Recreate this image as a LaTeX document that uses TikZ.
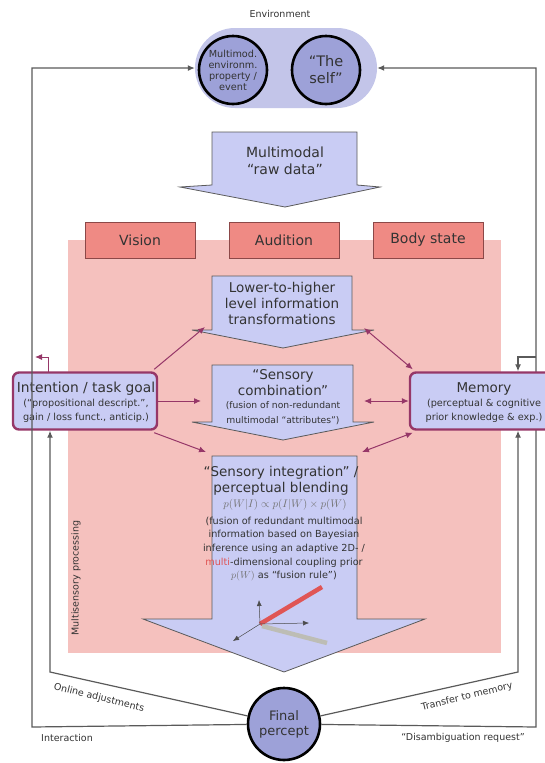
\documentclass[tikz,border=0pt]{standalone}
\usepackage{fontspec}
\setmainfont{DejaVu Sans}
\usetikzlibrary{arrows.meta,shapes.misc,calc}
\definecolor{lav}{HTML}{C9CCF4}
\definecolor{lavdark}{HTML}{9DA1D8}
\definecolor{caps}{HTML}{C3C5E9}
\definecolor{pinkbg}{HTML}{F5C1BE}
\definecolor{salmon}{HTML}{EF8A84}
\definecolor{boxbd}{HTML}{8C4848}
\definecolor{mag}{HTML}{963768}
\definecolor{txt}{HTML}{333333}
\definecolor{lin}{HTML}{5A5A5A}
\definecolor{redl}{HTML}{E05555}
\definecolor{grayl}{HTML}{BDBDB5}
\tikzset{
  blockarrow/.style={fill=lav, draw=lin, line width=0.8pt},
  sense/.style={fill=salmon, draw=boxbd, line width=0.9pt, minimum width=110pt, minimum height=36pt, inner sep=0pt, font=\fontsize{14}{16}\selectfont, text=txt},
  bigc/.style={circle, draw=black, line width=2.6pt, fill=lavdark, minimum size=68pt, inner sep=0pt, align=center, text=txt},
  sidebox/.style={rounded corners=6pt, draw=mag, line width=2.4pt, fill=lav, minimum height=57pt, inner sep=0pt, align=center, text=txt},
  flow/.style={draw=lin, line width=1.2pt, -{Latex[length=7pt,width=6pt]}},
  flowline/.style={draw=lin, line width=1.2pt},
  magarrow/.style={draw=mag, line width=1pt, -{Latex[length=7pt,width=6pt]}},
  magdbl/.style={draw=mag, line width=1pt, {Latex[length=7pt,width=6pt]}-{Latex[length=7pt,width=6pt]}},
  ttl/.style={font=\fontsize{13.5}{16}\selectfont, text=txt, align=center, inner sep=0pt},
  sml/.style={font=\fontsize{9.7}{14}\selectfont, text=txt, align=center, inner sep=0pt},
  lbl/.style={font=\fontsize{9.5}{11}\selectfont, text=txt, inner sep=0pt},
  axis/.style={draw=black!70, line width=0.5pt, -{Latex[length=6pt,width=5pt]}}
}
\begin{document}
\begin{tikzpicture}[x=1pt,y=-1pt]
\useasboundingbox (0,0) rectangle (545,763);
\fill[white] (0,0) rectangle (545,763);
% multisensory processing background
\fill[pinkbg] (68,240) rectangle (501,653);
\node[lbl, rotate=90] (msp) at (76,578) {Multisensory processing};

% environment
\node[lbl] (envlbl) at (280,14) {Environment};
\node[rounded rectangle, fill=caps, minimum width=182pt, minimum height=80pt, inner sep=0pt] (env) at (286,68) {};
\node[bigc, font=\fontsize{9.7}{11}\selectfont] (evt) at (233,70) {Multimod.\\environm.\\property /\\event};
\node[bigc, font=\fontsize{14.5}{17}\selectfont] (self) at (326,70) {“The\\self”};

% raw data arrow
\path[blockarrow] (212,132) -- (357,132) -- (357,185) -- (380,187) -- (285,207) -- (180,187) -- (212,185) -- cycle;
\node[ttl, font=\fontsize{14}{17}\selectfont] (raw) at (285,161) {Multimodal\\“raw data”};

% sensory boxes
\node[sense] (vis) at (140,240) {Vision};
\node[sense] (aud) at (284,240) {Audition};
\node[sense] (body) at (428,240) {Body state};

% lower-to-higher
\path[blockarrow] (212,276) -- (352,276) -- (352,330) -- (374,330) -- (283,348) -- (192,330) -- (212,330) -- cycle;
\node[ttl] (low) at (282,303) {Lower-to-higher\\level information\\transformations};

% sensory combination
\path[blockarrow] (212,365) -- (353,365) -- (353,422) -- (374,422) -- (283,440) -- (192,422) -- (212,422) -- cycle;
\node[ttl] (comb) at (283,383) {“Sensory\\combination”};
\node[sml, font=\fontsize{9.2}{15}\selectfont] (combsub) at (283,413) {(fusion of non-redundant\\multimodal “attributes”)};

% sensory integration
\path[blockarrow] (212,456) -- (357,456) -- (357,619) -- (425,619) -- (284,672) -- (143,619) -- (212,619) -- cycle;
\node[ttl] (integ) at (281,481) {“Sensory integration” /\\perceptual blending};
\node[sml, font=\fontsize{10.5}{12}\selectfont, text=black!55] (formula) at (285,505) {$p(W|I)\propto p(I|W)\times p(W)$};
\node[sml, font=\fontsize{9.7}{13.6}\selectfont] (integsub) at (284,549) {(fusion of redundant multimodal\\information based on Bayesian\\inference using an adaptive 2D- /\\{\color{redl}multi}-dimensional coupling prior\\{\color{black!55}$p(W)$} as “fusion rule”)};
% small 3D graphic
\coordinate (orig) at (260,624);
\draw[redl, line width=4.5pt] (orig) -- (322,587);
\draw[grayl, line width=4.5pt] (262,626) -- (327,643);
\draw[axis] (orig) -- (259,600);
\draw[axis] (orig) -- (309,623);
\draw[axis] (orig) -- (233,641);

% intention
\node[sidebox, minimum width=144pt] (int) at (85,401) {};
\node[ttl, font=\fontsize{13.8}{16}\selectfont] (intt) at (86,389) {Intention / task goal};
\node[sml] (ints) at (86,411) {(“propositional descript.”,\\gain / loss funct., anticip.)};

% feedback loops (outer right line drawn before memory so the box hides it)
\node[bigc, minimum size=72pt, font=\fontsize{13}{15}\selectfont] (fp) at (284,724) {Final\\percept};
\coordinate (lo) at (32,727);
\coordinate (ro) at (536,727);
\coordinate (la) at (50,672);
\coordinate (ra) at (518,672);
\coordinate (rj) at (536,357);
\coordinate (rk) at (518,357);
\draw[flow] (fp) -- (lo) -- (32,68) -- (env.west);
\draw[flow] (fp) -- (ro) -- (536,68) -- (env.east);

% memory
\node[sidebox, minimum width=150pt] (mem) at (485,401) {};
\node[ttl] (memt) at (484,389) {Memory};
\node[sml] (mems) at (484,411) {(perceptual \& cognitive\\prior knowledge \& exp.)};

\draw[flow] (fp) -- (la) -- (la |- int.south);
\draw[flow] (fp) -- (ra) -- (ra |- mem.south);
\draw[flow] (rj) -- (rk) -- (rk |- mem.north);

% magenta arrows
\draw[magarrow] (int.north east) ++(-4,-2) coordinate (i1) -- (205,327);
\draw[magarrow] (int.east) -- (201,401);
\draw[magarrow] (int.south east) ++(-4,2) coordinate (i3) -- (206,452);
\draw[magdbl] (mem.north west) ++(4,-2) coordinate (m1) -- (364,328);
\draw[magdbl] (mem.west) -- (364,401);
\draw[magdbl] (mem.south west) ++(4,2) coordinate (m3) -- (362,452);
\draw[magarrow] (48,373) -- (48,357) -- (35,357);

% labels
\node[lbl, rotate=-14] (online) at (99,698) {Online adjustments};
\node[lbl, rotate=14] (transfer) at (467,697) {Transfer to memory};
\node[lbl] (inter) at (67,738) {Interaction};
\node[lbl] (disamb) at (463,738) {“Disambiguation request”};
\end{tikzpicture}
\end{document}
